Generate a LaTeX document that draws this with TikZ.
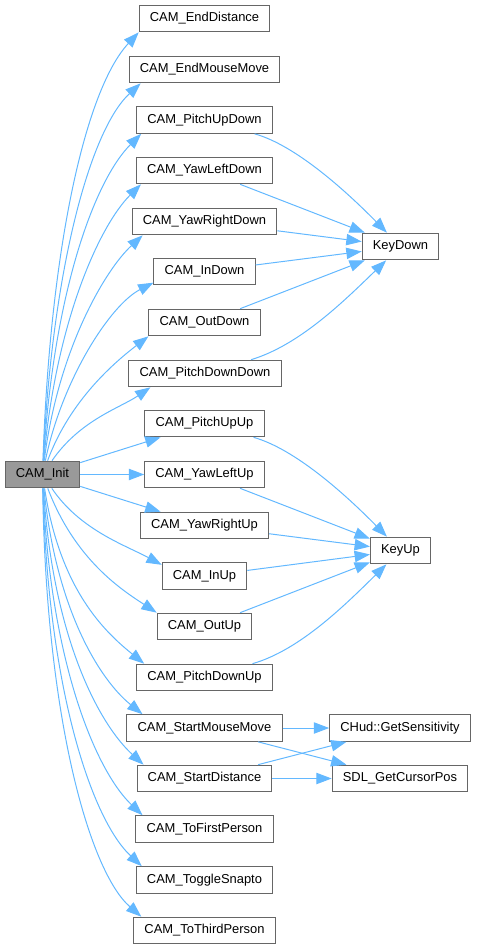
\documentclass[tikz,border=0pt]{standalone}
\usepackage{fontspec}
\setmainfont{Liberation Sans}
\usepackage{tikz}
\usetikzlibrary{arrows.meta}
\usepackage{xcolor}
\definecolor{callblue}{HTML}{63B8FF}
\definecolor{boxline}{HTML}{666666}
\definecolor{rootfill}{HTML}{999999}

\begin{document}
\begin{tikzpicture}[x=0.75pt,y=-0.75pt,>={Triangle[length=11.5pt,width=8.5pt]},
  fn/.style={draw=boxline,line width=0.75pt,fill=white,inner xsep=8pt,inner ysep=0pt,minimum height=20pt,font=\fontsize{9.7pt}{11pt}\selectfont},
  call/.style={->,draw=callblue,line width=0.75pt}]
\useasboundingbox (0,0) rectangle (477,949);
% caller
\node[fn,fill=rootfill] (init) at (42.5,474.5) {CAM\_Init};
% direct callees
\node[fn] (enddist) at (204.5,18.5) {CAM\_EndDistance};
\node[fn] (endmouse) at (204.5,69.5) {CAM\_EndMouseMove};
\node[fn] (pitchupdown) at (204.5,120) {CAM\_PitchUpDown};
\node[fn] (yawleftdown) at (204.5,170.5) {CAM\_YawLeftDown};
\node[fn] (yawrightdown) at (204.5,221.5) {CAM\_YawRightDown};
\node[fn] (indown) at (204.5,271.5) {CAM\_InDown};
\node[fn] (outdown) at (204.5,322.5) {CAM\_OutDown};
\node[fn] (pitchdowndown) at (205,373.5) {CAM\_PitchDownDown};
\node[fn] (pitchupup) at (204.5,423.5) {CAM\_PitchUpUp};
\node[fn] (yawleftup) at (204.5,474.5) {CAM\_YawLeftUp};
\node[fn] (yawrightup) at (204.5,525.5) {CAM\_YawRightUp};
\node[fn] (inup) at (204.5,576) {CAM\_InUp};
\node[fn] (outup) at (204.5,626.5) {CAM\_OutUp};
\node[fn] (pitchdownup) at (204.5,677.5) {CAM\_PitchDownUp};
\node[fn] (startmouse) at (204.5,728) {CAM\_StartMouseMove};
\node[fn] (startdist) at (204.5,778.5) {CAM\_StartDistance};
\node[fn] (tofirst) at (204.5,829) {CAM\_ToFirstPerson};
\node[fn] (togglesnap) at (204.5,880) {CAM\_ToggleSnapto};
\node[fn] (tothird) at (204.5,930.5) {CAM\_ToThirdPerson};
% second level
\node[fn] (keydown) at (400.5,246.5) {KeyDown};
\node[fn] (keyup) at (400.5,550.5) {KeyUp};
\node[fn] (getsens) at (400,728) {CHud::GetSensitivity};
\node[fn] (getcursor) at (400,778.5) {SDL\_GetCursorPos};
% fan out of CAM_Init
\draw[call] (init) .. controls (50,250) and (85,90) .. (enddist.south west);
\draw[call] (init) .. controls (52,270) and (90,130) .. ([xshift=9pt]endmouse.south west);
\draw[call] (init) .. controls (54,290) and (95,180) .. ([xshift=3.75pt]pitchupdown.south west);
\draw[call] (init) .. controls (56,320) and (100,225) .. ([xshift=3.75pt]yawleftdown.south west);
\draw[call] (init) .. controls (58,350) and (105,270) .. ([xshift=8.25pt]yawrightdown.south west);
\draw[call] (init) .. controls (62,380) and (110,305) .. ([yshift=2pt]indown.south west);
\draw[call] (init) .. controls (70,400) and (115,362) .. (outdown.south west);
\draw[call] (init) .. controls (80,420) and (120,408) .. ([xshift=16.5pt]pitchdowndown.south west);
\draw[call] (init) -- (pitchupup);
\draw[call] (init) -- (yawleftup);
\draw[call] (init) -- (yawrightup);
\draw[call] (init) .. controls (80,530) and (125,545) .. ([yshift=-2pt]inup.north west);
\draw[call] (init) .. controls (75,560) and (122,590) .. (outup.north west);
\draw[call] (init) .. controls (60,590) and (105,632) .. ([xshift=6pt]pitchdownup.north west);
\draw[call] (init) .. controls (56,610) and (100,680) .. ([xshift=12pt]startmouse.north west);
\draw[call] (init) .. controls (53,640) and (100,725) .. ([xshift=5.25pt]startdist.north west);
\draw[call] (init) .. controls (50,660) and (95,770) .. ([xshift=5.25pt]tofirst.north west);
\draw[call] (init) .. controls (48,690) and (92,820) .. ([xshift=4.5pt]togglesnap.north west);
\draw[call] (init) .. controls (46,720) and (90,872) .. ([xshift=6pt]tothird.north west);
% into KeyDown / KeyUp
\draw[call] (pitchupdown) .. controls (295,145) and (345,190) .. (keydown);
\draw[call] (yawleftdown) -- (keydown);
\draw[call] (yawrightdown) -- (keydown);
\draw[call] (indown) -- (keydown);
\draw[call] (outdown) -- (keydown);
\draw[call] (pitchdowndown) .. controls (300,345) and (345,300) .. (keydown);
\draw[call] (pitchupup) .. controls (295,449) and (345,494) .. (keyup);
\draw[call] (yawleftup) -- (keyup);
\draw[call] (yawrightup) -- (keyup);
\draw[call] (inup) -- (keyup);
\draw[call] (outup) -- (keyup);
\draw[call] (pitchdownup) .. controls (300,650) and (345,605) .. (keyup);
% mouse / distance helpers
\draw[call] (startmouse) -- (getsens);
\draw[call] (startmouse) -- (getcursor);
\draw[call] (startdist) -- (getsens);
\draw[call] (startdist) -- (getcursor);
\end{tikzpicture}
\end{document}
